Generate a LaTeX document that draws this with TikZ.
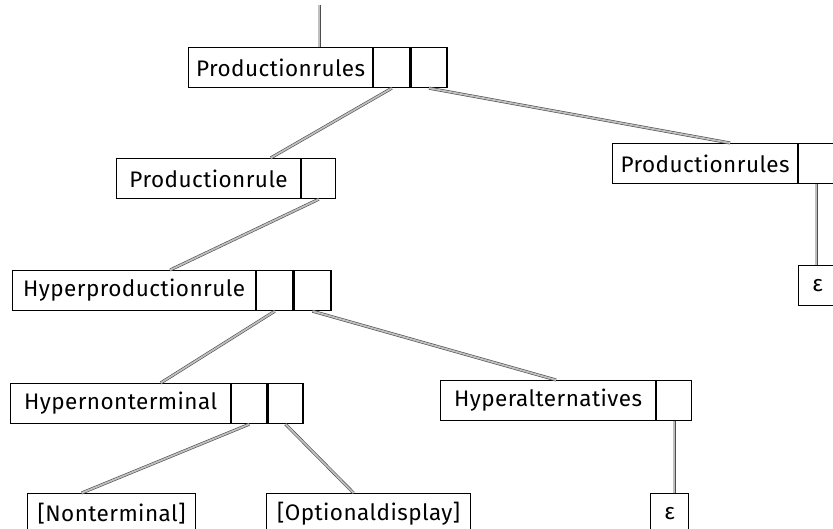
\documentclass[tikz,border=0pt]{standalone}
\usepackage{fontspec}
\setmainfont{Fira Sans}[LetterSpace=2]
\begin{document}
\begin{tikzpicture}[x=1pt,y=-1pt,
  box/.style={draw=black, line width=1.2pt, minimum height=40pt, inner sep=0pt, anchor=north west, font=\fontsize{22.5}{26}\selectfont},
  cell/.style={draw=black, line width=1.2pt, minimum height=40pt, minimum width=36pt, inner sep=0pt, anchor=north west},
  link/.style={draw=black!70, line width=0.6pt, double=black!25, double distance=1.8pt}]
\useasboundingbox (0,0) rectangle (833,529);
\clip (0,0) rectangle (833,529);
% level 1
\node[box, minimum width=184pt] (n1) at (188,47) {Productionrules};
\node[cell] (n1a) at (n1.north east) {};
\node[cell] (n1b) at (n1a.north east) {};
\coordinate (top) at (319,5);
% level 2
\node[box, minimum width=184pt] (n2) at (116,158) {Productionrule};
\node[cell, minimum width=34pt] (n2a) at (n2.north east) {};
\node[box, minimum width=185pt] (n3) at (612,143) {Productionrules};
\node[cell, minimum width=35pt] (n3a) at (n3.north east) {};
\node[box, minimum width=38pt] (e1) at (798,265) {ε};
% level 3
\node[box, minimum width=243pt] (n4) at (12,270) {Hyperproductionrule};
\node[cell] (n4a) at (n4.north east) {};
\node[cell, minimum width=37pt] (n4b) at (n4a.north east) {};
% level 4
\node[box, minimum width=220pt] (n5) at (10,383) {Hypernonterminal};
\node[cell, minimum width=35pt] (n5a) at (n5.north east) {};
\node[cell, minimum width=35pt] (n5b) at (n5a.north east) {};
\node[box, minimum width=215pt] (n6) at (440,380) {Hyperalternatives};
\node[cell, minimum width=35pt] (n6a) at (n6.north east) {};
% level 5
\node[box, minimum width=168pt] (n7) at (27,493) {[Nonterminal]};
\node[box, minimum width=204pt] (n8) at (266,493) {[Optionaldisplay]};
\node[box, minimum width=38pt] (e2) at (650,493) {ε};
% links
\draw[link] (top) -- (top |- n1.north);
\draw[link] (n1a.south) -- ([xshift=62pt]n2.north);
\draw[link] (n1b.south) -- ([xshift=25pt]n3.north);
\draw[link] (n2a.south) -- ([xshift=36pt]n4.north);
\draw[link] (n4a.south) -- ([xshift=40pt]n5.north);
\draw[link] (n4b.south) -- ([xshift=8pt]n6.north);
\draw[link] (n5a.south) -- ([xshift=-30pt]n7.north);
\draw[link] (n5b.south) -- ([xshift=-15pt]n8.north);
\draw[link] (n6a.south) -- (n6a.south |- e2.north);
\draw[link] (n3a.south) -- (n3a.south |- e1.north);
\end{tikzpicture}
\end{document}
